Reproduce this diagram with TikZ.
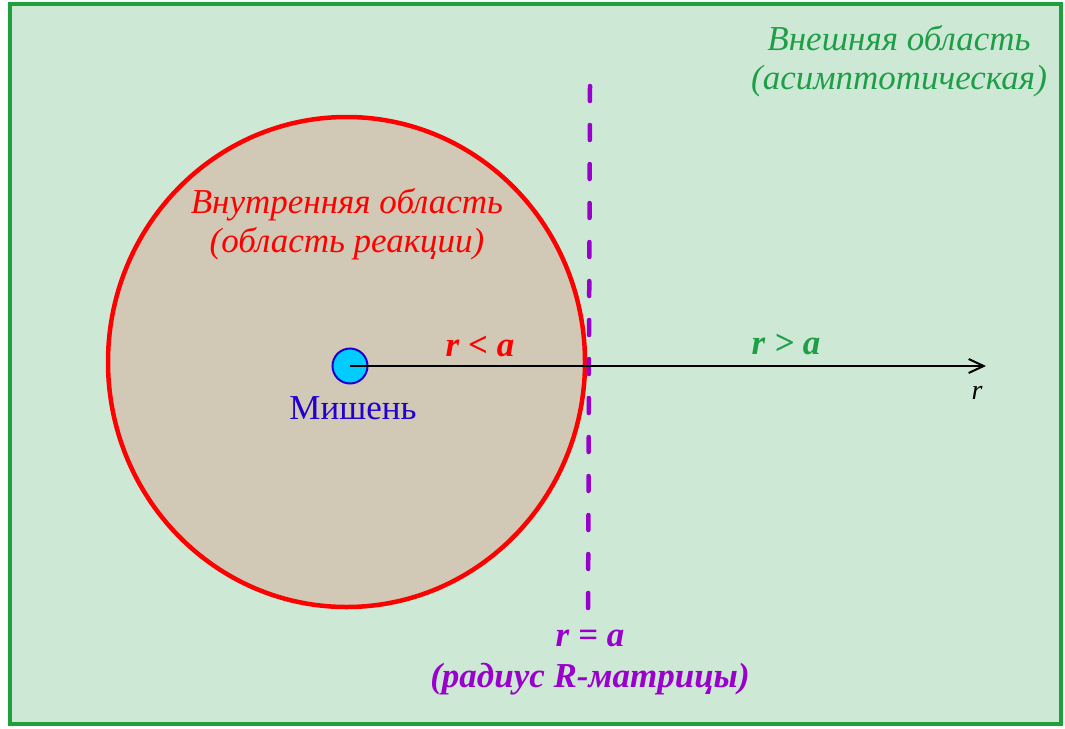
\documentclass[tikz,border=0pt]{standalone}
\usepackage{fontspec}
\setmainfont{Liberation Serif}
\usetikzlibrary{arrows.meta}
\definecolor{bgg}{HTML}{CDE9D6}
\definecolor{frameg}{HTML}{1EA03C}
\definecolor{txtg}{HTML}{1E9E46}
\definecolor{inner}{HTML}{D1C9B5}
\definecolor{redc}{HTML}{FF0000}
\definecolor{purp}{HTML}{9900CC}
\definecolor{cyanc}{HTML}{00CCFF}
\definecolor{bluec}{HTML}{2200CC}
\tikzset{
  lbl/.style={font=\fontsize{35}{39}\selectfont\itshape, align=center, inner sep=0pt},
  cond/.style={font=\fontsize{35}{41}\selectfont\bfseries\itshape, align=center, inner sep=0pt},
}
\begin{document}
\begin{tikzpicture}[x=1pt,y=-1pt]
\useasboundingbox (0,0) rectangle (1065,728);
\fill[white] (0,0) rectangle (1065,728);
\draw[frameg, line width=4pt, fill=bgg] (10,4) rectangle (1061,724);
\draw[redc, line width=4.5pt, fill=inner] (346.5,362) ellipse [x radius=238.5, y radius=245];
\draw[purp, line width=4.5pt, line cap=round, dash pattern=on 15pt off 24pt] (590,86) -- (588,625);
\node[circle, draw=bluec, line width=2pt, fill=cyanc, minimum size=35pt, inner sep=0pt] (tgt) at (350,366) {};
\coordinate (rend) at (986,366);
\draw[line width=2.5pt, -{Straight Barb[length=15pt, width=14pt, line width=2pt]}] (tgt.center) -- (rend);
\node[lbl, text=txtg] (outer) at (899,61) {Внешняя область\\(асимптотическая)};
\node[lbl, text=redc] (innerlbl) at (347,224) {Внутренняя область\\(область реакции)};
\node[cond, text=redc] (rlt) at (480,346) {r < a};
\node[cond, text=txtg] (rgt) at (786,344) {r > a};
\node[font=\fontsize{28}{32}\selectfont\itshape, inner sep=0pt] (rlab) at (977,393) {r};
\node[font=\fontsize{35}{40}\selectfont, text=bluec, inner sep=0pt] (mish) at (353,408) {Мишень};
\node[cond, text=purp] (req) at (590,663) {r = a\\(радиус R-матрицы)};
\end{tikzpicture}
\end{document}
